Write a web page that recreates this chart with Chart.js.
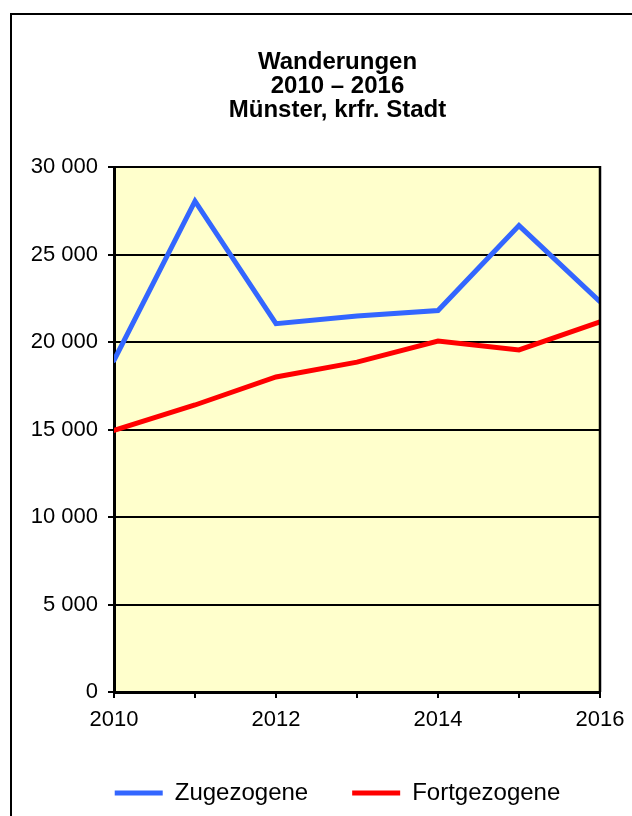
<!DOCTYPE html>
<html>
<head>
<meta charset="utf-8">
<script src="https://cdn.jsdelivr.net/npm/chart.js@4"></script>
<style>
  html, body { margin:0; padding:0; background:#fff; overflow:hidden; }
  #frame { position:absolute; left:10px; top:13px; width:700px; height:900px; border:2px solid #000; }
  #chart { position:absolute; left:0; top:0; }
</style>
</head>
<body>
<div id="frame"></div>
<canvas id="chart" width="632" height="816"></canvas>
<script>
// Wanderungen Münster 2010-2016
const years = ['2010', '2011', '2012', '2013', '2014', '2015', '2016'];
const zugezogene = [18950, 28050, 21050, 21480, 21800, 26650, 22300];
const fortgezogene = [14950, 16400, 18000, 18850, 20050, 19550, 21150];
const titleLines = ['Wanderungen', '2010 \u2013 2016', 'Münster, krfr. Stadt'];
const yTicks = [0, 5000, 10000, 15000, 20000, 25000, 30000];

const FONT = "'Liberation Sans', Arial, sans-serif";
const fmt = v => String(v).replace(/\B(?=(\d{3})+(?!\d))/g, ' ');

// yellow plot background + right frame edge
const plotFrame = {
  id: 'plotFrame',
  beforeDraw(chart){
    const {ctx, chartArea:a} = chart;
    ctx.save();
    ctx.fillStyle = '#FFFFCC';
    ctx.fillRect(a.left, a.top, a.right - a.left, a.bottom - a.top);
    ctx.restore();
  },
  afterDraw(chart){
    const {ctx, chartArea:a} = chart;
    ctx.save();
    ctx.strokeStyle = '#000'; ctx.lineWidth = 2.5;
    ctx.beginPath(); ctx.moveTo(a.right, a.top - 1); ctx.lineTo(a.right, a.bottom); ctx.stroke();
    ctx.restore();
  }
};

new Chart(document.getElementById('chart').getContext('2d'), {
  type: 'line',
  data: {
    labels: years,
    datasets: [
      {label:'Zugezogene', data:zugezogene, borderColor:'#3366FF', backgroundColor:'#3366FF',
       borderWidth:5, pointRadius:0, tension:0, clip:0, borderCapStyle:'round'},
      {label:'Fortgezogene', data:fortgezogene, borderColor:'#FF0000', backgroundColor:'#FF0000',
       borderWidth:5, pointRadius:0, tension:0, clip:0, borderCapStyle:'round'}
    ]
  },
  options: {
    responsive: false,
    animation: false,
    devicePixelRatio: 1,
    // title and legend share the full width; the offset balances both against the reference
    layout: { padding: {left:28, right:-15, top:0, bottom:1} },
    plugins: {
      title: {
        display: true, text: titleLines, color:'#000',
        font: {family:FONT, size:24, weight:'bold', lineHeight:'24px'},
        padding: {top:50, bottom:45}
      },
      legend: {
        position: 'bottom',
        labels: {
          color:'#000', font:{family:FONT, size:24},
          usePointStyle:true, pointStyle:'line', pointStyleWidth:48, padding:44
        }
      },
      tooltip: { enabled:false }
    },
    scales: {
      x: {
        offset: false,
        grid: { drawOnChartArea:false, drawTicks:true, tickLength:6, color:'#000', lineWidth:2 },
        border: { display:true, color:'#000', width:3 },
        ticks: {
          autoSkip:false, maxRotation:0, color:'#000', padding:9,
          font:{family:FONT, size:22},
          callback: (v, i) => i % 2 === 0 ? years[i] : ''
        },
        afterFit: s => { s.height = 45; s.paddingRight = 32; }
      },
      y: {
        min: 0, max: 30000,
        grid: { color:'#000', lineWidth:2, tickLength:6 },
        border: { display:true, color:'#000', width:3 },
        ticks: {
          stepSize:5000, color:'#000', padding:10,
          font:{family:FONT, size:22},
          callback: v => yTicks.includes(v) ? fmt(v) : ''
        },
        afterFit: s => { s.width = 86; }
      }
    }
  },
  plugins: [plotFrame]
});
</script>
</body>
</html>
